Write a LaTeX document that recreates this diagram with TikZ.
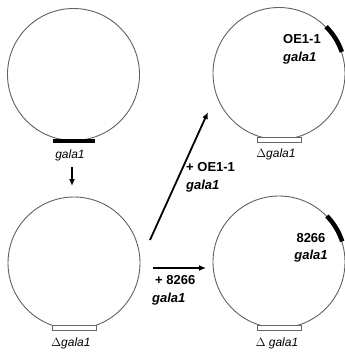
\documentclass[tikz,border=0pt]{standalone}
\usepackage{fontspec}
\setmainfont{Liberation Sans}
\usetikzlibrary{arrows.meta}
\begin{document}
\begin{tikzpicture}[x=1pt,y=-1pt,
  plasmid/.style={circle,draw=black!62,line width=0.9pt,minimum size=132pt,inner sep=0pt},
  solidbar/.style={line width=4.5pt,black},
  openbar/.style={rectangle,draw=black!60,fill=white,line width=0.8pt,minimum width=44pt,minimum height=5pt,inner sep=0pt},
  arr/.style={line width=1.8pt,-{Latex[length=7pt,width=6pt]}},
  itlab/.style={font=\itshape\fontsize{12}{14}\selectfont,inner sep=0pt},
  bdlab/.style={font=\bfseries\fontsize{13}{18.5}\selectfont,inner sep=0pt,align=left},
  bdlabc/.style={font=\bfseries\fontsize{13}{17}\selectfont,inner sep=0pt,align=center}]
\useasboundingbox (0,0) rectangle (345,356);
% plasmids
\node[plasmid] (c1) at (73.5,74.5) {};
\node[plasmid] (c2) at (279,73.5) {};
\node[plasmid] (c3) at (74,263) {};
\node[plasmid] (c4) at (279,262) {};
% top-left intact gene
\draw[solidbar] (53,141) -- (95,141);
\node[itlab] (l1) at (70,155) {gala1};
% deletions
\node[openbar] (o2) at (279.5,140) {};
\node[openbar] (o3) at (74,327.5) {};
\node[openbar] (o4) at (279.5,327.5) {};
\node[itlab] (l2) at (276,154) {$\Delta$gala1};
\node[itlab] (l3) at (71,343) {$\Delta$gala1};
\node[itlab] (l4) at (277,343) {$\Delta$ gala1};
% complementing genes
\draw[solidbar] (c2.19) arc[start angle=19,end angle=45,radius=66pt];
\draw[solidbar] (c4.18) arc[start angle=18,end angle=44,radius=66pt];
\node[bdlab,anchor=north west] (t2) at (283,34) {OE1-1\\\textit{gala1}};
\node[bdlabc,anchor=north] (t4) at (311,233) {8266\\\textit{gala1}};
% arrows
\coordinate (a1s) at (72,167);
\coordinate (a1e) at (72,186);
\draw[arr] (a1s) -- (a1e);
\coordinate (a2s) at (150,240);
\coordinate (a2e) at (208,112);
\draw[arr] (a2s) -- (a2e);
\coordinate (a3s) at (153,268);
\coordinate (a3e) at (206,268);
\draw[arr] (a3s) -- (a3e);
\node[bdlab,anchor=north west] (t5) at (186,162) {+ OE1-1\\\textit{gala1}};
\node[bdlab,anchor=north west] (t6) at (155,275) {+ 8266\\[-0.5pt]\hspace*{-3pt}\textit{gala1}};
\end{tikzpicture}
\end{document}
